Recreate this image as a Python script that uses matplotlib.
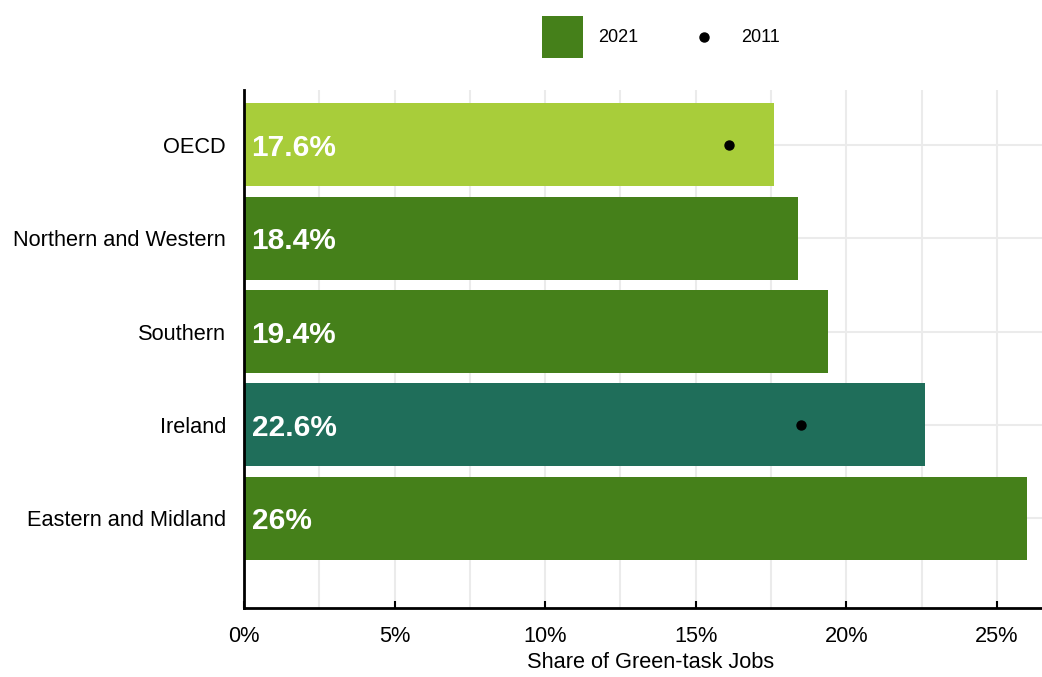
import matplotlib
matplotlib.use("Agg")
import matplotlib.pyplot as plt
from matplotlib.patches import Patch
from matplotlib.lines import Line2D
from matplotlib.legend_handler import HandlerLine2D
from matplotlib.ticker import MultipleLocator, FuncFormatter

plt.rcParams['font.family'] = ['Liberation Sans', 'DejaVu Sans']

# === data
regions = ["OECD", "Northern and Western", "Southern", "Ireland", "Eastern and Midland"]
share_2021 = [17.6, 18.4, 19.4, 22.6, 26.0]
labels_2021 = ["17.6%", "18.4%", "19.4%", "22.6%", "26%"]
share_2011 = [16.1, None, None, 18.5, None]
bar_colors = ["#a8cd3a", "#45801a", "#45801a", "#1f6e5a", "#45801a"]


class CenteredDot(HandlerLine2D):
    # put the legend dot at the same height as the square patch
    def create_artists(self, legend, orig_handle, xdescent, ydescent,
                       width, height, fontsize, trans):
        artists = super().create_artists(legend, orig_handle, xdescent, ydescent,
                                         width, height, fontsize, trans)
        for a in artists:
            a.set_ydata([height / 2 - ydescent] * len(a.get_ydata()))
        return artists


fig = plt.figure(figsize=(10.42, 6.77), dpi=100)
ax = fig.add_axes([0.2342, 0.1019, 0.7658, 0.7652])

ypos = list(range(len(regions)))
ax.barh(ypos, share_2021, height=0.89, color=bar_colors, zorder=2)

# 2011 dots
dot_y = [y for y, v in zip(ypos, share_2011) if v is not None]
dot_x = [v for v in share_2011 if v is not None]
ax.scatter(dot_x, dot_y, s=42, color="black", zorder=3)

# labels inside bars
for y, lab in zip(ypos, labels_2021):
    ax.text(0.25, y, lab, color="white", fontsize=21.5, fontweight="bold",
            va="center_baseline", ha="left", zorder=4)

ax.set_xlim(0, 26.5)
ax.set_ylim(4.965, -0.59)
ax.set_yticks(ypos)
ax.set_yticklabels(regions)

ax.xaxis.set_major_locator(MultipleLocator(5))
ax.xaxis.set_minor_locator(MultipleLocator(2.5))
ax.xaxis.set_major_formatter(FuncFormatter(lambda v, p: f"{v:.0f}%"))

ax.grid(True, which="both", axis="x", color="#ebebeb", linewidth=1.5, zorder=0)
ax.grid(True, axis="y", color="#ebebeb", linewidth=1.5, zorder=0)
ax.set_axisbelow(True)

ax.tick_params(axis="y", length=0, pad=13, labelsize=15.7)
ax.tick_params(axis="x", which="major", direction="in", length=5, width=1.5,
               pad=13, labelsize=15.7)
ax.tick_params(axis="x", which="minor", length=0)

for side in ["top", "right"]:
    ax.spines[side].set_visible(False)
for side in ["left", "bottom"]:
    ax.spines[side].set_linewidth(2)
    ax.spines[side].set_color("black")

ax.set_xlabel("Share of Green-task Jobs", fontsize=15.7)
ax.xaxis.set_label_coords(0.51, -0.084)

dot_handle = Line2D([], [], marker="o", color="black", linestyle="none", markersize=6.5)
handles = [Patch(facecolor="#45801a", edgecolor="none"), dot_handle]
fig.legend(handles, ["2021", "2011"], loc="center", bbox_to_anchor=(0.634, 0.945),
           ncol=2, frameon=False, fontsize=13, handlelength=2.27, handleheight=3.2,
           handletextpad=0.88, columnspacing=2.5,
           handler_map={dot_handle: CenteredDot()})

fig.savefig("out.png", dpi=100)
